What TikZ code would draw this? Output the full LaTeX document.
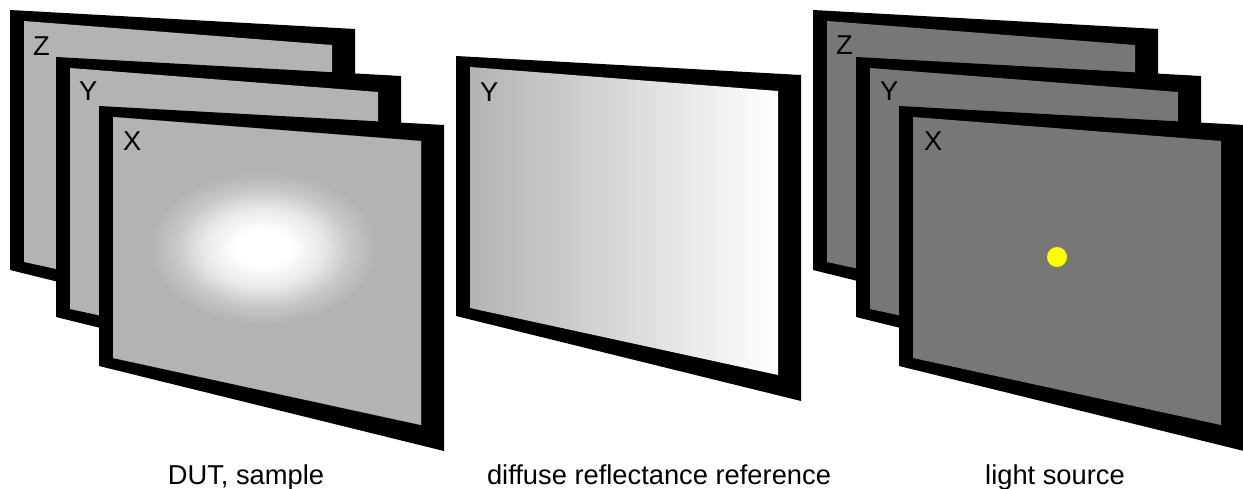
\documentclass[tikz,border=0pt]{standalone}
\usepackage{fontspec}
\setmainfont{Liberation Sans}
\definecolor{lgray}{HTML}{B3B3B3}
\definecolor{dgray}{HTML}{777777}
\definecolor{dotyellow}{HTML}{FFFF00}
\pgfdeclareradialshading{glow}{\pgfpoint{0bp}{0bp}}{color(0bp)=(white); color(2.5bp)=(white); color(5.5bp)=(white!70!lgray); color(8bp)=(white!28!lgray); color(10.5bp)=(lgray); color(50bp)=(lgray)}
\newcommand{\myframe}[3]{%
  \fill[black] (#1,#2) -- ++(345,19) -- ++(0,326) -- ++(-345,-85) -- cycle;
  \fill[#3] (#1+14,#2+11) -- (#1+322,#2+35) -- (#1+322,#2+319) -- (#1+14,#2+252) -- cycle;}
\tikzset{
  lab/.style={font=\fontsize{27.3}{32}\selectfont, inner sep=0pt, anchor=base west},
  caption/.style={font=\fontsize{27.3}{32}\selectfont, inner sep=0pt, anchor=base}
}
\begin{document}
\begin{tikzpicture}[x=1pt,y=-1pt]
\useasboundingbox (0,0) rectangle (1243,489);
% left stack
\myframe{10}{10}{lgray}
\node[lab] (lz) at (33,56) {Z};
\myframe{56}{57}{lgray}
\node[lab] (ly) at (79,101) {Y};
\myframe{99}{106}{lgray}
\begin{scope}
  \clip (113,117) -- (421,141) -- (421,425) -- (113,358) -- cycle;
  \fill[shading=glow] (263-270,248-180) rectangle (263+270,248+180);
\end{scope}
\node[lab] (lx) at (123,151) {X};
% middle
\fill[black] (456,56) -- ++(345,19) -- ++(0,326) -- ++(-345,-85) -- cycle;
\shade[left color=lgray, right color=white] (470,67) -- (778,91) -- (778,375) -- (470,308) -- cycle;
\node[lab] (my) at (480,102) {Y};
% right stack
\myframe{813}{10}{dgray}
\node[lab] (rz) at (836,55) {Z};
\myframe{856}{57}{dgray}
\node[lab] (ry) at (880,101) {Y};
\myframe{899}{106}{dgray}
\node[lab] (rx) at (924,151) {X};
\fill[dotyellow] (1057,257) circle [radius=10];
% captions
\node[caption] (c1) at (246,484) {DUT, sample};
\node[caption] (c2) at (659,484) {diffuse reflectance reference};
\node[caption] (c3) at (1055,484) {light source};
\end{tikzpicture}
\end{document}
